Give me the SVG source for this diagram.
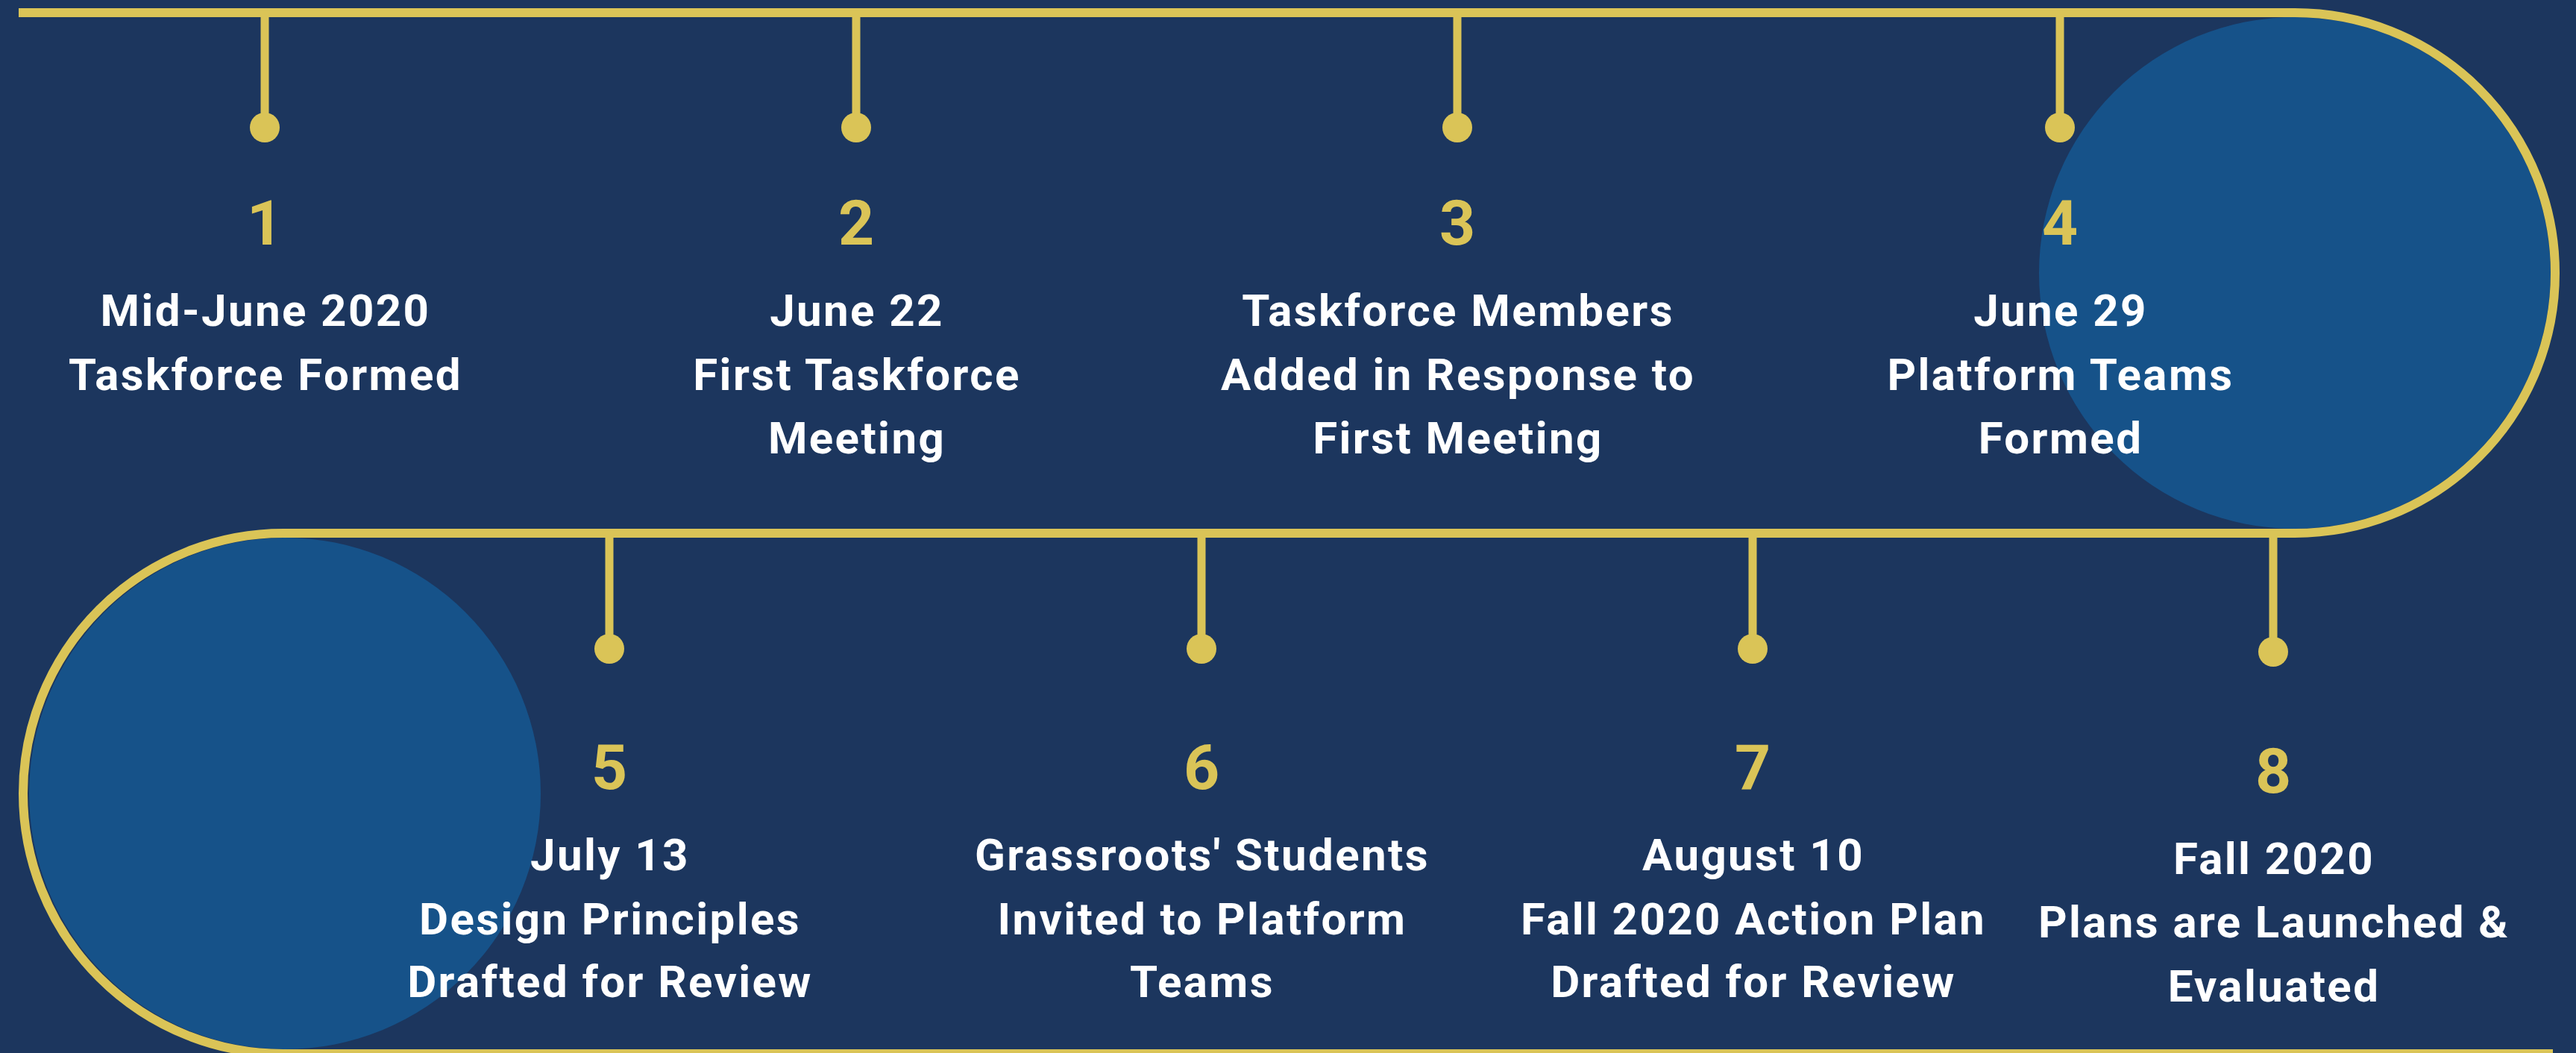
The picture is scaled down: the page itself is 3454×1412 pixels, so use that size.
<svg xmlns="http://www.w3.org/2000/svg" width="3454" height="1412" viewBox="0 0 3454 1412">
  <style>
    .bg { fill: #1C365E; }
    .disc { fill: #165289; }
    .track { fill: none; stroke: #DAC457; stroke-width: 12; }
    .stem { stroke: #DAC457; stroke-width: 11; }
    .dot { fill: #DAC457; }
    .num { font-family: Roboto, "Liberation Sans", sans-serif; font-weight: 700; font-size: 84px; fill: #DAC457; text-anchor: middle; }
    .lbl { font-family: Roboto, "Liberation Sans", sans-serif; font-weight: 700; font-size: 60px; fill: #FFFFFF; text-anchor: middle; letter-spacing: 2.4px; }
  </style>
  <rect class="bg" x="0" y="0" width="3454" height="1412"/>
  <g id="decor">
    <circle class="disc" cx="3077" cy="366" r="343"/>
    <circle class="disc" cx="382" cy="1064" r="343"/>
  </g>
  <g id="connectors">
    <path class="track" d="M25 17 H3077 A349 349 0 0 1 3077 715 H380 A349 349 0 0 0 380 1413 H3423"/>
    <line class="stem" x1="355" y1="17" x2="355" y2="171"/>
    <line class="stem" x1="1148" y1="17" x2="1148" y2="171"/>
    <line class="stem" x1="1954" y1="17" x2="1954" y2="171"/>
    <line class="stem" x1="2762" y1="17" x2="2762" y2="171"/>
    <line class="stem" x1="817" y1="715" x2="817" y2="870"/>
    <line class="stem" x1="1611" y1="715" x2="1611" y2="870"/>
    <line class="stem" x1="2350" y1="715" x2="2350" y2="870"/>
    <line class="stem" x1="3048" y1="715" x2="3048" y2="874"/>
  </g>
  <g id="n1">
    <circle class="dot" cx="355" cy="171" r="20"/>
    <text class="num" x="355" y="328">1</text>
    <text class="lbl" x="356" y="437">Mid-June 2020</text>
    <text class="lbl" x="356" y="523">Taskforce Formed</text>
  </g>
  <g id="n2">
    <circle class="dot" cx="1148" cy="171" r="20"/>
    <text class="num" x="1148" y="328">2</text>
    <text class="lbl" x="1149" y="437">June 22</text>
    <text class="lbl" x="1149" y="523">First Taskforce</text>
    <text class="lbl" x="1149" y="608">Meeting</text>
  </g>
  <g id="n3">
    <circle class="dot" cx="1954" cy="171" r="20"/>
    <text class="num" x="1954" y="328">3</text>
    <text class="lbl" x="1955" y="437">Taskforce Members</text>
    <text class="lbl" x="1955" y="523">Added in Response to</text>
    <text class="lbl" x="1955" y="608">First Meeting</text>
  </g>
  <g id="n4">
    <circle class="dot" cx="2762" cy="171" r="20"/>
    <text class="num" x="2762" y="328">4</text>
    <text class="lbl" x="2763" y="437">June 29</text>
    <text class="lbl" x="2763" y="523">Platform Teams</text>
    <text class="lbl" x="2763" y="608">Formed</text>
  </g>
  <g id="n5">
    <circle class="dot" cx="817" cy="870" r="20"/>
    <text class="num" x="817" y="1058">5</text>
    <text class="lbl" x="818" y="1167">July 13</text>
    <text class="lbl" x="818" y="1253">Design Principles</text>
    <text class="lbl" x="818" y="1337">Drafted for Review</text>
  </g>
  <g id="n6">
    <circle class="dot" cx="1611" cy="870" r="20"/>
    <text class="num" x="1611" y="1058">6</text>
    <text class="lbl" x="1612" y="1167">Grassroots' Students</text>
    <text class="lbl" x="1612" y="1253">Invited to Platform</text>
    <text class="lbl" x="1612" y="1337">Teams</text>
  </g>
  <g id="n7">
    <circle class="dot" cx="2350" cy="870" r="20"/>
    <text class="num" x="2350" y="1058">7</text>
    <text class="lbl" x="2351" y="1167">August 10</text>
    <text class="lbl" x="2351" y="1253">Fall 2020 Action Plan</text>
    <text class="lbl" x="2351" y="1337">Drafted for Review</text>
  </g>
  <g id="n8">
    <circle class="dot" cx="3048" cy="874" r="20"/>
    <text class="num" x="3048" y="1063">8</text>
    <text class="lbl" x="3049" y="1172">Fall 2020</text>
    <text class="lbl" x="3049" y="1257">Plans are Launched &amp;</text>
    <text class="lbl" x="3049" y="1343">Evaluated</text>
  </g>
</svg>
